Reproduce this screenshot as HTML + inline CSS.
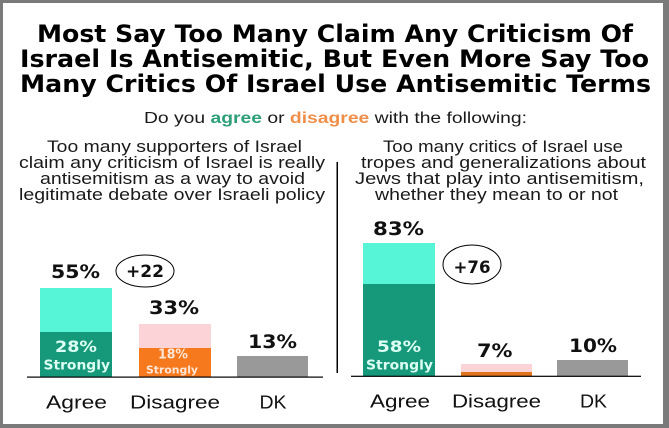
<!DOCTYPE html>
<html><head><meta charset="utf-8"><style>
html,body{margin:0;padding:0;background:#fff;}
svg{display:block;}
.t{font-family:"DejaVu Sans","Liberation Sans",sans-serif;font-weight:bold;fill:#000;}
.s{font-family:"Liberation Sans",Arial,sans-serif;fill:#1a1a1a;}
.p{font-family:"DejaVu Sans","Liberation Sans",sans-serif;font-weight:bold;fill:#111;font-size:19px;}
.a{font-family:"Liberation Sans",Arial,sans-serif;fill:#111;font-size:18.5px;}
</style></head><body>
<svg width="669" height="428" viewBox="0 0 669 428" xmlns="http://www.w3.org/2000/svg">
<rect x="0" y="0" width="669" height="428" fill="#7a7a7a"/>
<rect x="3" y="3" width="660" height="421" fill="#ffffff"/>

<!-- Title -->
<text class="t" x="37" y="42" font-size="24" textLength="596" lengthAdjust="spacingAndGlyphs">Most Say Too Many Claim Any Criticism Of</text>
<text class="t" x="20" y="67" font-size="24" textLength="629" lengthAdjust="spacingAndGlyphs">Israel Is Antisemitic, But Even More Say Too</text>
<text class="t" x="20" y="92" font-size="24" textLength="631" lengthAdjust="spacingAndGlyphs">Many Critics Of Israel Use Antisemitic Terms</text>

<!-- Subtitle -->
<text class="s" x="144" y="123" font-size="15.5" textLength="383" lengthAdjust="spacingAndGlyphs">Do you <tspan font-weight="bold" fill="#2e9f78">agree</tspan> or <tspan font-weight="bold" fill="#f08f4a">disagree</tspan> with the following:</text>

<!-- Left question -->
<text class="s" x="47" y="152" font-size="17" textLength="255" lengthAdjust="spacingAndGlyphs">Too many supporters of Israel</text>
<text class="s" x="19" y="168" font-size="17" textLength="306" lengthAdjust="spacingAndGlyphs">claim any criticism of Israel is really</text>
<text class="s" x="40" y="184" font-size="17" textLength="265" lengthAdjust="spacingAndGlyphs">antisemitism as a way to avoid</text>
<text class="s" x="19" y="200" font-size="17" textLength="306" lengthAdjust="spacingAndGlyphs">legitimate debate over Israeli policy</text>

<!-- Right question -->
<text class="s" x="383" y="152" font-size="17" textLength="240" lengthAdjust="spacingAndGlyphs">Too many critics of Israel use</text>
<text class="s" x="361" y="168" font-size="17" textLength="285" lengthAdjust="spacingAndGlyphs">tropes and generalizations about</text>
<text class="s" x="355" y="184" font-size="17" textLength="289" lengthAdjust="spacingAndGlyphs">Jews that play into antisemitism,</text>
<text class="s" x="375" y="200" font-size="17" textLength="243" lengthAdjust="spacingAndGlyphs">whether they mean to or not</text>

<!-- Divider -->
<rect x="336.5" y="162" width="1.5" height="211" fill="#000"/>

<!-- Left bars -->
<rect x="40" y="288" width="72" height="44" fill="#57f5d8"/>
<rect x="40" y="332" width="72" height="45" fill="#16987a"/>
<rect x="139" y="324" width="72" height="24" fill="#fcd3d6"/>
<rect x="139" y="348" width="72" height="29" fill="#f6791e"/>
<rect x="237" y="356" width="71" height="21" fill="#999999"/>
<rect x="27" y="376.5" width="296" height="1.2" fill="#000"/>

<!-- Right bars -->
<rect x="363" y="243" width="72" height="41" fill="#57f5d8"/>
<rect x="363" y="284" width="72" height="92" fill="#16987a"/>
<rect x="461" y="364" width="71" height="8" fill="#fcd3d6"/>
<rect x="461" y="372" width="71" height="4" fill="#e3741e"/>
<rect x="557" y="360" width="71" height="16" fill="#999999"/>
<rect x="351" y="375.7" width="290" height="1.2" fill="#000"/>

<!-- Left labels -->
<text class="p" x="51" y="278" textLength="49" lengthAdjust="spacingAndGlyphs">55%</text>
<text class="p" x="149" y="314" textLength="50" lengthAdjust="spacingAndGlyphs">33%</text>
<text class="p" x="248" y="348" textLength="49" lengthAdjust="spacingAndGlyphs">13%</text>
<text class="p" x="55" y="352" style="font-size:16px;fill:#dcfff3" textLength="42" lengthAdjust="spacingAndGlyphs">28%</text>
<text class="p" x="43.5" y="369.5" style="font-size:13px;fill:#dcfff3" textLength="66.5" lengthAdjust="spacingAndGlyphs">Strongly</text>
<text class="p" x="158" y="358.5" style="font-size:13px;fill:#ffe6d6" textLength="30" lengthAdjust="spacingAndGlyphs">18%</text>
<text class="p" x="146" y="373.5" style="font-size:11px;fill:#ffe6d6" textLength="52" lengthAdjust="spacingAndGlyphs">Strongly</text>
<ellipse cx="145" cy="271" rx="29" ry="16" fill="none" stroke="#000" stroke-width="1"/>
<text class="p" x="126" y="277" style="font-size:17px" textLength="38" lengthAdjust="spacingAndGlyphs">+22</text>

<!-- Right labels -->
<text class="p" x="373" y="235" textLength="51" lengthAdjust="spacingAndGlyphs">83%</text>
<ellipse cx="472" cy="264.5" rx="29" ry="19.5" fill="none" stroke="#000" stroke-width="1"/>
<text class="p" x="453.5" y="273" style="font-size:17px" textLength="37" lengthAdjust="spacingAndGlyphs">+76</text>
<text class="p" x="377" y="352" style="font-size:16px;fill:#dcfff3" textLength="44" lengthAdjust="spacingAndGlyphs">58%</text>
<text class="p" x="366" y="369.5" style="font-size:13px;fill:#dcfff3" textLength="67" lengthAdjust="spacingAndGlyphs">Strongly</text>
<text class="p" x="477" y="357" textLength="35.5" lengthAdjust="spacingAndGlyphs">7%</text>
<text class="p" x="569" y="352" textLength="48" lengthAdjust="spacingAndGlyphs">10%</text>

<!-- Axis labels -->
<text class="a" x="46" y="408.5" textLength="61" lengthAdjust="spacingAndGlyphs">Agree</text>
<text class="a" x="130" y="408.5" textLength="90" lengthAdjust="spacingAndGlyphs">Disagree</text>
<text class="a" x="259.5" y="408.5" textLength="27" lengthAdjust="spacingAndGlyphs">DK</text>
<text class="a" x="370" y="407.5" textLength="60" lengthAdjust="spacingAndGlyphs">Agree</text>
<text class="a" x="452" y="407.5" textLength="89" lengthAdjust="spacingAndGlyphs">Disagree</text>
<text class="a" x="580" y="407.5" textLength="27" lengthAdjust="spacingAndGlyphs">DK</text>
</svg>
</body></html>
